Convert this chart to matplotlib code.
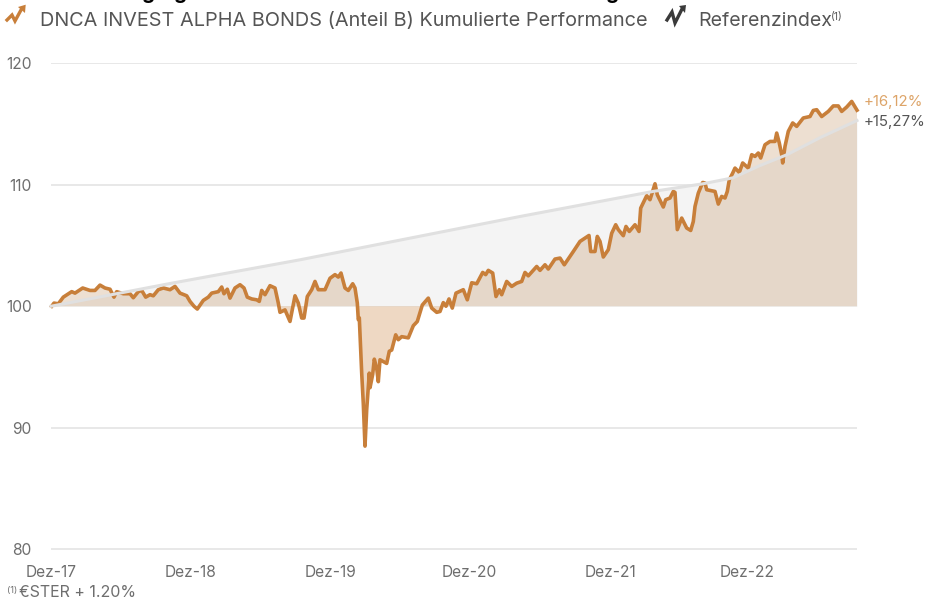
import matplotlib
matplotlib.use("Agg")
import matplotlib.pyplot as plt
from matplotlib.lines import Line2D
from matplotlib.patches import Polygon

W, H = 927, 601
plt.rcParams['font.family'] = ['Inter', 'DejaVu Sans']

# Observation index (0..806) and value of the fund, by period
fund_2018 = [(0.7,100),(3,100.26),(7.3,100.2),(12.3,100.75),(20.7,101.2),(24,101.08),(31.7,101.5),(39,101.3),(44,101.3),
 (49,101.74),(54,101.5),(59,101.4),(63,100.75),(65.7,101.2),(72.3,101.03),(79,101.03),(82.3,100.7),(87.3,101.2),(90.7,101.3),
 (94.7,100.75),(99,100.95),(102.3,100.86),(107.3,101.36),(112.3,101.5),(119,101.36),(124,101.63),(129,101.08),(135.7,100.86),(139,100.4)]
fund_2019 = [(143,100),(146.3,99.77),(152.3,100.48),(157.3,100.75),(160.7,101.08),(167.3,101.2),(170.7,101.58),(173,101.03),
 (176.3,101.4),(179,100.67),(184,101.5),(189,101.77),(193,101.5),(196.3,100.75),(200.7,100.6),(205.7,100.53),(208.3,100.4),
 (210.7,101.3),(214,100.95),(219,101.69),(224,101.5),(227.3,100.26),(229,99.5),(234,99.7),(239,98.75),(244,100.86),(247.3,100.26),
 (250.7,99.03),(253,99.03),(256.3,100.8),(260.7,101.36),(264,102.04),(267.3,101.36),(274,101.36),(279,102.3),(284,102.6)]
fund_2020 = [(287.3,102.4),(290,102.73),(294,101.5),(297.3,101.3),(301.7,101.85),(304,101.5),(306.3,100.26),(307.3,98.9),
 (308.3,99.05),(310.7,94.5),(312.3,92),(314,88.5),(315.7,91.5),(318.3,94.5),(319,93.3),(321.7,94.4),(323.3,95.65),(325.7,94.9),
 (327.3,93.8),(329,95.6),(335.7,95.3),(338.3,96.3),(340.7,96.4),(344.7,97.65),(347.3,97.25),(350.7,97.5),(357.3,97.4),(362.3,98.4),
 (366.3,98.75),(371.3,100.1),(377.3,100.67),(380.7,99.85),(385.7,99.5),(389,99.57),(392.3,100.3),(395,100),(398,100.6),(401.3,99.85),
 (405,101.08),(412.3,101.36),(416.3,100.53),(420.7,101.93)]
fund_2021 = [(425.7,101.85),(431.7,102.78),(434.7,102.6),(437.3,102.95),(441.7,102.73),(445,100.8),(448.3,101.36),(450.7,100.95),
 (455.7,102.04),(460.7,101.63),(465.7,101.9),(470.7,102.04),(474,102.78),(477.3,102.5),(485.7,103.27),(489,102.95),(494,103.41),
 (497.3,103.06),(504,103.88),(509,103.96),(513.3,103.41),(522.3,104.5),(529,105.33),(538,105.82),(539.7,104.5),(544,104.5),
 (546.3,105.74),(549,105.33),(552.3,104.05),(557.3,104.65),(560.7,106),(564.7,106.7),(567.3,106.3),(572.3,105.8),(575,106.56),
 (578.3,106.15),(584,106.7),(588,106.15)]
fund_2022 = [(589.7,108.07),(595.7,109.09),(599,108.76),(604,110.07),(606.3,109.17),(612.3,108.16),(614.7,108.76),(619,108.9),
 (622.3,109.44),(624,109.36),(626.3,106.3),(630.7,107.25),(635.7,106.43),(639.7,106.23),(642.3,106.97),(644,108.2),(647.3,109.3),
 (651.7,110.18),(654,110.13),(655.7,109.58),(664,109.44),(667.3,108.4),(670.7,109.03),(674,108.9),(676.3,109.44),(678.3,110.4),
 (681.7,110.95),(684,111.36),(688.3,111),(691.7,111.78),(697.3,111.36)]
fund_2023 = [(700.7,112.46),(704,112.32),(707.3,112.6),(709.7,112.19),(714,113.28),(719,113.55),(724,113.55),(725.7,114.24),
 (728.3,113.42),(730.7,112.46),(731.7,111.78),(734,113.14),(737.3,114.38),(741.7,115.07),(745.7,114.79),(752.3,115.48),(759,115.6),
 (762.3,116.1),(765.7,116.16),(770.7,115.6),(777.3,116.02),(782.3,116.47),(787.3,116.47),(790.7,116.02),(795.7,116.38),(800.7,116.84),(806,116.12)]

fund_points = fund_2018 + fund_2019 + fund_2020 + fund_2021 + fund_2022 + fund_2023
fund_x = [p[0] for p in fund_points]
fund_y = [p[1] for p in fund_points]

index_x = [0, 119, 249, 469, 602, 652, 682, 709, 736, 769, 806]
index_y = [100, 101.87, 103.82, 107.38, 109.44, 110.07, 110.56, 111.57, 112.46, 113.86, 115.27]

y_ticks = [80, 90, 100, 110, 120]
x_tick_pos = [0, 139, 279, 418, 560, 696]
x_tick_labels = ['Dez-17', 'Dez-18', 'Dez-19', 'Dez-20', 'Dez-21', 'Dez-22']

ORANGE = '#C87F3A'
GREY_TXT = '#6e6e6e'
DARK = '#555555'

fig = plt.figure(figsize=(W/100, H/100), dpi=100)
ax = fig.add_axes([51/W, 1-549.5/H, 806/W, (549.5-63)/H])
ax.set_xlim(0, 806)
ax.set_ylim(80, 120)
for s in ax.spines.values():
    s.set_visible(False)
ax.set_yticks(y_ticks)
ax.set_xticks(x_tick_pos)
ax.set_xticklabels(x_tick_labels)
ax.tick_params(length=0, labelsize=11.2, colors=GREY_TXT)
ax.tick_params(axis='y', pad=14)
ax.tick_params(axis='x', pad=11.5)
ax.grid(axis='y', color='#e2e2e2', lw=1.1)
ax.set_axisbelow(True)

above = [v >= 100 for v in fund_y]
below = [v <= 100 for v in fund_y]
ax.fill_between(index_x, 100, index_y, color='#f4f4f4', lw=0, zorder=1)
ax.fill_between(fund_x, 100, fund_y, where=above, interpolate=True, color='#C08A58', alpha=0.27, lw=0, zorder=2)
ax.fill_between(fund_x, 100, fund_y, where=below, interpolate=True, color=ORANGE, alpha=0.3, lw=0, zorder=2)
ax.plot(fund_x, fund_y, color=ORANGE, lw=2.6, zorder=3, clip_on=False, solid_joinstyle='round')
ax.plot(index_x, index_y, color='#e0e0e0', lw=2.2, zorder=4, clip_on=False)

ax.annotate('+16,12%', (806, 116.12), xytext=(5, 1), textcoords='offset points',
            fontsize=10.8, color='#DDA468', va='bottom', annotation_clip=False)
ax.annotate('+15,27%', (806, 115.27), xytext=(5, -0.7), textcoords='offset points',
            fontsize=10.8, color=DARK, va='center', annotation_clip=False)

def ftext(px, py, s, **kw):
    return fig.text(px/W, 1-py/H, s, **kw)

for gx in [148, 180, 612]:
    ftext(gx, -1, 'g', fontsize=15, fontweight='bold', color='black', va='baseline', ha='center')
ftext(40, 21, 'DNCA INVEST ALPHA BONDS (Anteil B) Kumulierte Performance', fontsize=14.3, color=DARK, va='center')
ftext(698, 21, 'Referenzindex', fontsize=14.1, color=DARK, va='center')
ftext(831, 17, '(1)', fontsize=7.5, color=DARK, va='center')
ftext(7, 591, '(1)', fontsize=6.5, color=GREY_TXT, va='center')
ftext(19, 592.5, '€STER + 1.20%', fontsize=11.5, color=GREY_TXT, va='center')

def icon(zigzag, head, color):
    xs = [p[0]/W for p in zigzag]
    ys = [1-p[1]/H for p in zigzag]
    fig.add_artist(Line2D(xs, ys, color=color, lw=2.4, solid_joinstyle='miter'))
    fig.add_artist(Polygon([(x/W, 1-y/H) for x, y in head], closed=True, color=color, lw=0, transform=fig.transFigure))

icon([(7, 20), (12, 15), (15, 21), (21, 10)], [(18, 7), (25.7, 4.7), (25, 13)], ORANGE)
icon([(667, 20), (672, 12), (675, 23), (682, 9)], [(679, 6), (686, 5), (685, 13)], '#3a3a3a')

fig.savefig('out.png', dpi=100)
